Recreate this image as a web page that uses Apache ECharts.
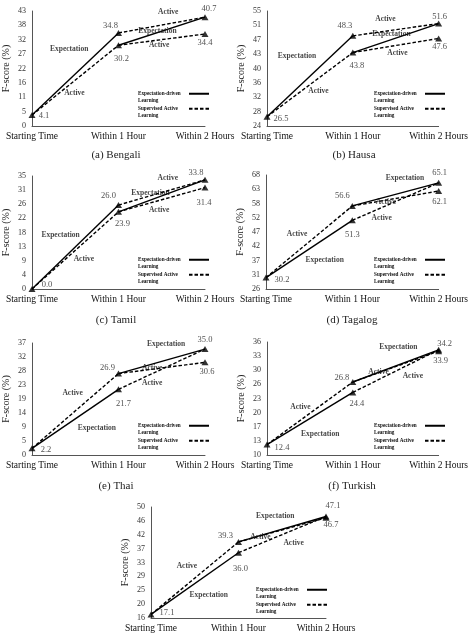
<!DOCTYPE html>
<html><head><meta charset="utf-8">
<script src="https://cdn.jsdelivr.net/npm/echarts@6/dist/echarts.min.js"></script>
<style>html,body{margin:0;padding:0;background:#fff}#c{width:471px;height:639px}</style>
</head><body><div id="c"></div>
<script>
// ---------- data ----------
const categories = ['Starting Time', 'Within 1 Hour', 'Within 2 Hours'];
const captions = ['(a) Bengali', '(b) Hausa', '(c) Tamil', '(d) Tagalog', '(e) Thai', '(f) Turkish', ''];
const startScore       = [4.1, 26.5, 0.0, 30.2, 2.2, 12.4, 17.1];
const hour1Expectation = [34.8, 48.3, 26.0, 51.3, 21.7, 24.4, 36.0];
const hour1Active      = [30.2, 43.8, 23.9, 56.6, 26.9, 26.8, 39.3];
const hour2Mixed       = [40.7, 51.6, 33.8, 65.1, 35.0, 34.2, 47.1];
const hour2Active      = [34.4, 47.6, 31.4, 62.1, 30.6, 33.9, 46.7];
const yMin = [0, 24, 0, 26, 0, 10, 16];
const yMax = [43, 55, 35, 68, 37, 36, 50];
const seriesNames = ['Expectation-driven\nLearning', 'Supervised Active\nLearning'];
const yTitle = 'F-score (%)';

// ---------- layout ----------
const FONT = '"Liberation Serif", "DejaVu Serif", serif';
const gridBoxes = [
  {left: 31, top: 11, width: 174, height: 115},
  {left: 267, top: 11, width: 174, height: 115},
  {left: 31, top: 176, width: 174, height: 113},
  {left: 266, top: 175, width: 175, height: 114},
  {left: 31, top: 343, width: 174, height: 112},
  {left: 267, top: 342, width: 174, height: 113},
  {left: 151, top: 507, width: 175, height: 111}
];
const legendPos = [[138, 84], [374, 84], [138, 250], [374, 250], [138, 416], [374, 416], [256, 580]];
const captionPos = [[116, 155], [354, 155], [116, 320], [352, 320], [116, 486], [352, 486]];
// annotation placements [x, y, text] in data units
const notes = [
  [[1.575, 42.6, 'Active'], [1.45, 35.4, 'Expectation'], [1.47, 30.2, 'Active'], [0.43, 28.6, 'Expectation'], [0.49, 12.2, 'Active']],
  [[1.38, 52.8, 'Active'], [1.45, 48.8, 'Expectation'], [1.52, 43.7, 'Active'], [0.35, 42.9, 'Expectation'], [0.6, 33.4, 'Active']],
  [[1.57, 34.3, 'Active'], [1.37, 29.7, 'Expectation'], [1.47, 24.5, 'Active'], [0.33, 16.7, 'Expectation'], [0.6, 9.3, 'Active']],
  [[1.61, 66.9, 'Expectation'], [1.39, 58, 'Active'], [1.34, 52.2, 'Active'], [0.36, 46.3, 'Active'], [0.68, 36.7, 'Expectation']],
  [[1.55, 36.8, 'Expectation'], [1.39, 28.7, 'Active'], [1.39, 23.8, 'Active'], [0.47, 20.5, 'Active'], [0.75, 8.9, 'Expectation']],
  [[1.53, 34.8, 'Expectation'], [1.3, 29.1, 'Active'], [1.7, 28.2, 'Active'], [0.39, 21, 'Active'], [0.62, 14.8, 'Expectation']],
  [[1.42, 47.3, 'Expectation'], [1.25, 40.8, 'Active'], [1.63, 39, 'Active'], [0.41, 32, 'Active'], [0.66, 23, 'Expectation']]
];
// value-label pixel offsets: [start, hour1Expectation, hour1Active, hour2Mixed, hour2Active]
const labelOffsets = [
  [[12, 1], [-8, -7], [3, 14], [4, -8], [0, 9]],
  [[14, 2], [-8, -10], [4, 13], [1, -7], [1, 8]],
  [[15, -4], [-10, -9], [4, 12], [-9, -7], [-1, 15]],
  [[16, 2], [0, 14], [-10, -10], [1, -10], [1, 11]],
  [[14, 1], [5, 14], [-11, -6], [0, -9], [2, 9]],
  [[15, 3], [4, 11], [-11, -4], [6, -6], [2, 10]],
  [[16, -2], [2, 16], [-13, -6], [7, -11], [5, 7]]
];

const option = {animation: false, grid: [], xAxis: [], yAxis: [], series: [], legend: [], graphic: []};

function seg(i, x0, y0, x1, y1, dashed) {
  return {
    type: 'line', name: dashed ? seriesNames[1] : seriesNames[0],
    xAxisIndex: i, yAxisIndex: i, data: [[x0, y0], [x1, y1]], symbol: 'none', silent: true,
    lineStyle: {color: '#000', width: 1.4, type: dashed ? [3.5, 2] : 'solid'},
    itemStyle: {color: '#000'}, z: 2
  };
}

const legendRich = {
  a: {width: 46, align: 'left', fontFamily: FONT, fontSize: 5.2, fontWeight: 'bold', lineHeight: 6.5, color: '#111'}
};

gridBoxes.forEach((g, i) => {
  option.grid.push({left: g.left, top: g.top, width: g.width, height: g.height});
  option.xAxis.push({
    type: 'value', gridIndex: i, min: 0, max: 2, interval: 1,
    axisLine: {onZero: false, lineStyle: {color: '#555', width: 1}},
    axisTick: {show: false}, splitLine: {show: false},
    axisLabel: {formatter: v => categories[v] || '', fontFamily: FONT, fontSize: 9.5, color: '#111', margin: 5}
  });
  const step = (yMax[i] - yMin[i]) / 8;
  const ticks = [];
  for (let k = 0; k <= 8; k++) ticks.push(yMin[i] + k * step);
  option.yAxis.push({
    type: 'value', gridIndex: i, min: yMin[i], max: yMax[i],
    axisLine: {show: true, onZero: false, lineStyle: {color: '#555', width: 1}},
    axisTick: {show: false}, splitLine: {show: false},
    axisLabel: {customValues: ticks, formatter: v => String(Math.round(v)), fontFamily: FONT, fontSize: 8, color: '#333', margin: 6},
    name: yTitle, nameLocation: 'middle', nameGap: 21,
    nameTextStyle: {fontFamily: FONT, fontSize: 10, color: '#222'}
  });
  // line segments
  option.series.push(seg(i, 0, startScore[i], 1, hour1Expectation[i], false));
  option.series.push(seg(i, 1, hour1Active[i], 2, hour2Mixed[i], false));
  option.series.push(seg(i, 0, startScore[i], 1, hour1Active[i], true));
  option.series.push(seg(i, 1, hour1Expectation[i], 2, hour2Mixed[i], true));
  option.series.push(seg(i, 1, hour1Active[i], 2, hour2Active[i], true));
  // markers with value labels
  const pts = [[0, startScore[i]], [1, hour1Expectation[i]], [1, hour1Active[i]], [2, hour2Mixed[i]], [2, hour2Active[i]]];
  option.series.push({
    type: 'scatter', name: 'points' + i, xAxisIndex: i, yAxisIndex: i, silent: true, z: 3,
    symbol: 'triangle', symbolSize: [7, 6], itemStyle: {color: '#000'},
    data: pts.map((p, k) => ({
      value: p,
      label: {show: true, position: 'inside', offset: labelOffsets[i][k], formatter: p[1].toFixed(1),
              fontFamily: FONT, fontSize: 8.5, color: '#222'}
    }))
  });
  // annotations
  option.series.push({
    type: 'scatter', name: 'notes' + i, xAxisIndex: i, yAxisIndex: i, silent: true, z: 4,
    symbolSize: 0,
    data: notes[i].map(n => ({
      value: [n[0], n[1]],
      label: {show: true, position: 'inside', formatter: n[2], fontFamily: FONT, fontSize: 7.5, fontWeight: 'bold', color: '#111'}
    }))
  });
  option.legend.push({
    orient: 'vertical', left: legendPos[i][0], top: legendPos[i][1], align: 'right', padding: 0,
    itemWidth: 20, itemHeight: 2, itemGap: -4.5, selectedMode: false, data: seriesNames,
    itemStyle: {opacity: 0},
    formatter: name => name.split('\n').map(s => '{a|' + s + '}').join('\n'),
    textStyle: {fontFamily: FONT, fontSize: 5.2, fontWeight: 'bold', lineHeight: 6.5, color: '#111',
                padding: [6.5, 0, 0, 0], rich: legendRich}
  });
  if (captions[i]) {
    option.graphic.push({
      type: 'text', x: captionPos[i][0], y: captionPos[i][1],
      style: {text: captions[i], fontFamily: FONT, fontSize: 11, fill: '#222', align: 'center', verticalAlign: 'middle',
              textAlign: 'center', textVerticalAlign: 'middle'}
    });
  }
});

const chart = echarts.init(document.getElementById('c'), null, {renderer: 'canvas'});
chart.setOption(option);
</script>
</body></html>
